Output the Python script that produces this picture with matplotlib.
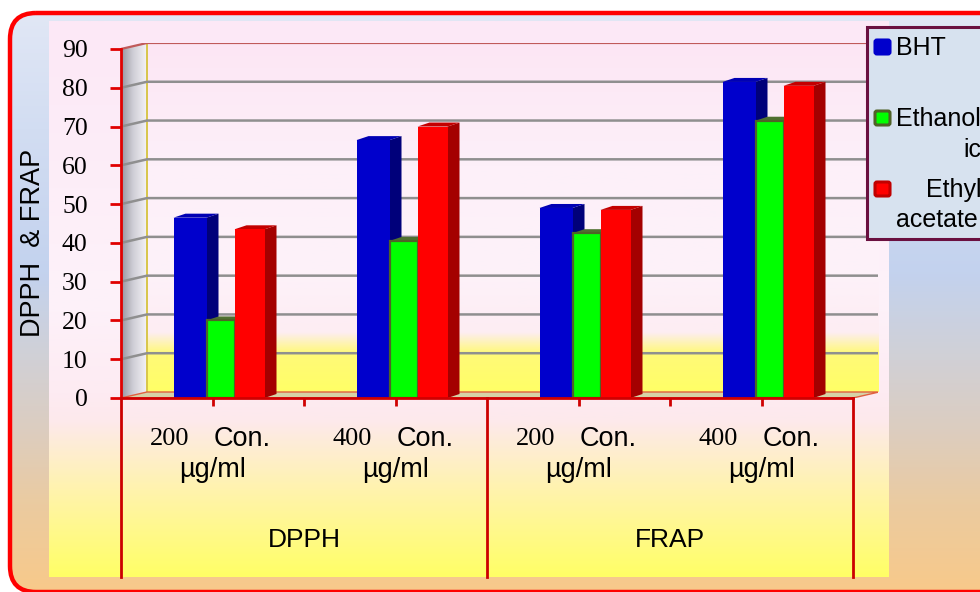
#!/usr/bin/env python3
"""
Antioxidant activity (DPPH and FRAP) of BHT and two extracts at
200 and 400 ug/ml, drawn as a pseudo-3D clustered column chart.

Output:
    out.png
"""

import matplotlib
matplotlib.use('Agg')  # Non-interactive backend
import matplotlib.pyplot as plt
import numpy as np
from matplotlib.colors import LinearSegmentedColormap
from matplotlib.patches import Rectangle, Polygon, FancyBboxPatch

# --- Data ---

ASSAYS = ['DPPH', 'FRAP']
DOSES = ['200', '400', '200', '400']
DOSE_UNIT = 'Con.'
DOSE_UNIT2 = '\u00b5g/ml'
SERIES = ['BHT', 'Ethanolic', 'Ethyl acetate']

BHT = [46.5, 66.5, 49, 81.5]
ETHANOLIC = [20, 40.5, 42.5, 71.5]
ETHYL_ACETATE = [43.5, 70, 48.5, 80.5]

Y_TICKS = [0, 10, 20, 30, 40, 50, 60, 70, 80, 90]
Y_LABEL = 'DPPH  & FRAP'

# --- Layout (pixels on a 980x592 canvas) ---

W, H = 980, 592
AX_LEFT, AX_RIGHT = 121, 878      # front y-axis .. back wall right edge
AX_BOTTOM, AX_TOP = 398, 43       # value 0 .. back wall top
CAT_PX = 183                      # width of one category
VAL_PX = 3.878                    # pixels per value unit
DEPTH_PX = (26, 6)                # back wall offset (right, up)
SIDE_PX = (12, 4)                 # bar side face offset

SANS = 'Liberation Sans'
SERIF = 'Liberation Serif'

# bar style: (offset from category centre px, width px, front, side, top, edge)
BAR_STYLE = [
    (-39, 33, '#0000cc', '#00007a', '#0000b4', None),
    (-6, 28, '#00ff00', '#2f7a1a', '#4f7030', '#4f6228'),
    (22, 30, '#ff0000', '#a40000', '#c40000', None),
]


def gradient_cmap(stops):
    return LinearSegmentedColormap.from_list('grad', list(stops), N=256)


def draw_gradient(ax, stops, extent, origin, horizontal=False, clip=None, zorder=0):
    arr = np.linspace(0, 1, 256)
    arr = arr.reshape(1, -1) if horizontal else arr.reshape(-1, 1)
    im = ax.imshow(arr, cmap=gradient_cmap(stops), extent=extent, origin=origin,
                   aspect='auto', interpolation='bilinear', zorder=zorder)
    if clip is not None:
        im.set_clip_path(clip)
    return im


fig = plt.figure(figsize=(W / 100, H / 100), dpi=100)
fig.patch.set_facecolor('white')

# --- Background: rounded frame and inner panel ---

bg = fig.add_axes([0, 0, 1, 1], zorder=0)
bg.axis('off')

FRAME = (10, 13, 1030, 579)   # x, y, width, height; right side runs off the canvas
FRAME_STYLE = 'round,pad=0,rounding_size=26'
frame = FancyBboxPatch(FRAME[:2], FRAME[2], FRAME[3], boxstyle=FRAME_STYLE,
                       facecolor='none', edgecolor='none', transform=bg.transData)
bg.add_patch(frame)
frame_stops = [(0.0, '#e1e7f5'), (0.2, '#d2ddf2'), (0.45, '#c3d2ee'),
               (0.6, '#d1d0d5'), (0.72, '#dccdc0'), (0.85, '#ebcba0'), (1.0, '#f8c98a')]
draw_gradient(bg, frame_stops, (FRAME[0], FRAME[0] + FRAME[2], FRAME[1] + FRAME[3], FRAME[1]),
              'upper', clip=frame)
bg.add_patch(FancyBboxPatch(FRAME[:2], FRAME[2], FRAME[3], boxstyle=FRAME_STYLE,
                            facecolor='none', edgecolor='#ff0000', linewidth=3.2, zorder=5))

panel_stops = [(0.0, '#fce8f6'), (0.3, '#fdeef8'), (0.5, '#fdf2fa'),
               (0.67, '#fdebf2'), (0.72, '#fde9ec'), (0.83, '#fff2b4'), (1.0, '#ffff66')]
draw_gradient(bg, panel_stops, (49, 888, 577, 21), 'upper', zorder=1)
bg.set_xlim(0, W)
bg.set_ylim(H, 0)

# --- Chart axes (front plane) ---

ax = fig.add_axes([AX_LEFT / W, (H - AX_BOTTOM) / H,
                   (AX_RIGHT - AX_LEFT) / W, (AX_BOTTOM - AX_TOP) / H], zorder=1)
ax.set_facecolor('none')

n_cat = len(DOSES)
dx = DEPTH_PX[0] / CAT_PX
dy = DEPTH_PX[1] / VAL_PX
sx = SIDE_PX[0] / CAT_PX
sy = SIDE_PX[1] / VAL_PX
y_max = Y_TICKS[-1]

# back wall with yellow band near the floor
wall_stops = [(0.0, '#ffff66'), (0.11, '#fff978'), (0.17, '#fdedf3'),
              (0.35, '#fdf2fa'), (0.65, '#fdf0f9'), (1.0, '#fce6f4')]
draw_gradient(ax, wall_stops, (dx, n_cat + dx, dy, y_max + dy), 'lower', zorder=0)

# left side wall
side_wall = Polygon([(0, 0), (dx, dy), (dx, y_max + dy), (0, y_max)],
                    closed=True, facecolor='none', edgecolor='none')
ax.add_patch(side_wall)
draw_gradient(ax, [(0.0, '#96949f'), (0.45, '#cfced6'), (1.0, '#f7f5f9')],
              (0, dx, 0, y_max + dy), 'lower', horizontal=True, clip=side_wall, zorder=0)
ax.plot([dx, dx], [dy, y_max + dy], color='#d8c64a', lw=1.4, zorder=1)

# floor
ax.add_patch(Polygon([(0, 0), (n_cat, 0), (n_cat + dx, dy), (dx, dy)], closed=True,
                     facecolor='#d6d2a6', edgecolor='#e06040', lw=1.0, zorder=1))

# gridlines running over the side wall and the back wall
for t in Y_TICKS[1:-1]:
    ax.plot([0, dx, n_cat + dx], [t, t + dy, t + dy], color='#8f8f8f', lw=1.8,
            solid_capstyle='butt', zorder=1)
ax.plot([0, dx, n_cat + dx], [y_max, y_max + dy, y_max + dy], color='#c05a5a', lw=1.6, zorder=1)
ax.plot([n_cat + dx, n_cat + dx], [dy, y_max + dy], color='#e03030', lw=1.4, zorder=1)

# columns
series = [BHT, ETHANOLIC, ETHYL_ACETATE]
for s, (values, style) in enumerate(zip(series, BAR_STYLE)):
    off, width, front, side, top, edge = style
    off_u, w_u = off / CAT_PX, width / CAT_PX
    for k, v in enumerate(values):
        x0 = k + 0.5 + off_u
        x1 = x0 + w_u
        ax.add_patch(Polygon([(x1, 0), (x1 + sx, sy), (x1 + sx, v + sy), (x1, v)],
                             closed=True, facecolor=side, edgecolor='none', zorder=3 + s))
        ax.add_patch(Polygon([(x0, v), (x0 + sx, v + sy), (x1 + sx, v + sy), (x1, v)],
                             closed=True, facecolor=top, edgecolor='none', zorder=3 + s))
        ax.bar(x0, v, width=w_u, align='edge', color=front,
               edgecolor=edge if edge else 'none', linewidth=1.6 if edge else 0,
               zorder=3 + s)

# axes, spines and ticks
for name in ('top', 'right'):
    ax.spines[name].set_visible(False)
ax.spines['left'].set_bounds(0, y_max)
ax.spines['left'].set_color('#e00000')
ax.spines['left'].set_linewidth(2)
ax.spines['bottom'].set_bounds(0, n_cat)
ax.spines['bottom'].set_color('#d00000')
ax.spines['bottom'].set_linewidth(2)
for sp in ax.spines.values():
    sp.set_zorder(6)

ax.set_yticks(Y_TICKS)
ax.set_yticklabels([str(t) for t in Y_TICKS], fontfamily=SERIF, fontsize=18.5)
ax.tick_params(axis='y', direction='out', length=8, width=2, color='#e00000',
               pad=16, labelcolor='black')

centres = [k + 0.5 for k in range(n_cat)]
inner_bounds = [k for k in range(1, n_cat) if k != n_cat // 2]
ax.set_xticks(sorted(centres + inner_bounds))
ax.set_xticklabels([])
ax.tick_params(axis='x', direction='out', length=6, width=2, color='#d00000')

# multi-level category labels below the axis
y_bottom = -(577 - AX_BOTTOM) / VAL_PX
for bx in range(0, n_cat + 1, 2):
    ax.plot([bx, bx], [0, y_bottom], color='#cc0000', lw=2, clip_on=False, zorder=6)

for c, dose in zip(centres, DOSES):
    ax.text(c - 43 / CAT_PX, -10.6, dose, ha='center', va='center',
            fontfamily=SERIF, fontsize=19, clip_on=False)
    ax.text(c + 30 / CAT_PX, -10.6, DOSE_UNIT, ha='center', va='center',
            fontfamily=SANS, fontsize=19.5, clip_on=False)
    ax.text(c, -18.6, DOSE_UNIT2, ha='center', va='center',
            fontfamily=SANS, fontsize=19.5, clip_on=False)

for g, assay in enumerate(ASSAYS):
    ax.text(g * 2 + 1, -36.6, assay, ha='center', va='center',
            fontfamily=SANS, fontsize=19, clip_on=False)

ax.set_xlim(0, (AX_RIGHT - AX_LEFT) / CAT_PX)
ax.set_ylim(0, (AX_BOTTOM - AX_TOP) / VAL_PX)

fig.text(33 / W, 1 - 243 / H, Y_LABEL, rotation=90, ha='center', va='center',
         fontfamily=SANS, fontsize=19.5)

# --- Legend (partly cut by the canvas edge) ---

lg = fig.add_axes([0, 0, 1, 1], zorder=3)
lg.set_xlim(0, W)
lg.set_ylim(H, 0)
lg.axis('off')
lg.add_patch(Rectangle((867, 27), 140, 212, facecolor='#d7e2ef', edgecolor='#6a1040', lw=2.2))

swatches = [
    ('#0000cc', '#0000cc', 40),
    ('#00ff00', '#4f6228', 111),
    ('#ff0000', '#c00000', 182),
]
for face, edge, top in swatches:
    lg.add_patch(FancyBboxPatch((875, top), 15, 14, boxstyle='round,pad=0,rounding_size=2',
                                facecolor=face, edgecolor=edge, lw=2.2))

legend_lines = [
    (SERIES[0], 896, 48),
    ('Ethanol', 896, 119),
    ('ic', 963, 150),
    ('Ethyl', 926, 190),
    ('acetate', 896, 220),
]
for text, x, y in legend_lines:
    lg.text(x, y, text, ha='left', va='center', fontfamily=SANS, fontsize=18)

fig.savefig('out.png', dpi=100, facecolor='white')
plt.close(fig)
